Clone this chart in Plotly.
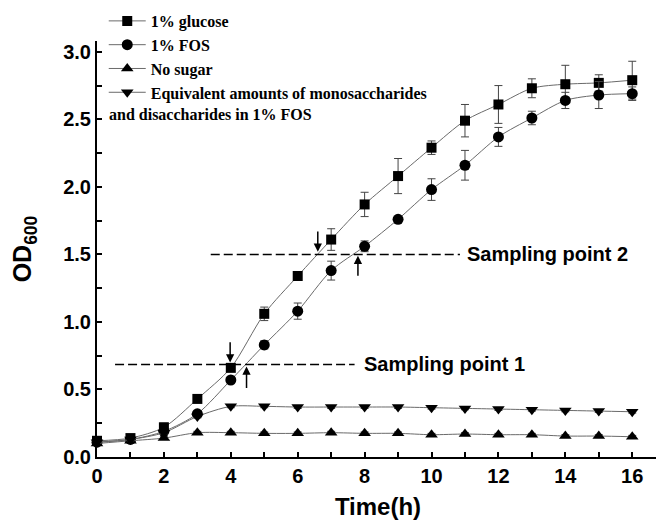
import plotly.graph_objects as go

time_h = list(range(17))

glucose = [0.12, 0.14, 0.22, 0.43, 0.66, 1.06, 1.34, 1.61, 1.87, 2.08, 2.29, 2.49, 2.61, 2.73, 2.76, 2.77, 2.79]
glucose_err = [0.02, 0.02, 0.03, 0.02, 0.02, 0.05, 0.02, 0.08, 0.09, 0.13, 0.05, 0.12, 0.14, 0.07, 0.14, 0.06, 0.14]

fos = [0.11, 0.13, 0.19, 0.32, 0.57, 0.83, 1.08, 1.38, 1.56, 1.76, 1.98, 2.16, 2.37, 2.51, 2.64, 2.68, 2.69]
fos_err = [0.02, 0.02, 0.02, 0.02, 0.02, 0.03, 0.06, 0.07, 0.04, 0.02, 0.08, 0.11, 0.07, 0.05, 0.06, 0.10, 0.05]

no_sugar = [0.10, 0.12, 0.14, 0.18, 0.18, 0.175, 0.175, 0.18, 0.175, 0.175, 0.165, 0.17, 0.165, 0.165, 0.155, 0.155, 0.15]
no_sugar_err = [0.01] * 17

mono_di = [0.11, 0.13, 0.18, 0.30, 0.375, 0.375, 0.37, 0.37, 0.37, 0.37, 0.365, 0.36, 0.355, 0.35, 0.345, 0.34, 0.335]
mono_di_err = [0.01] * 17

series_names = ["1% glucose", "1% FOS", "No sugar", "Equivalent amounts of monosaccharides"]
legend_line2 = "and disaccharides in 1% FOS"

# sampling annotations: [y level, dashed x start, dashed x end, label x]
sampling_labels = ["Sampling point 1", "Sampling point 2"]
sampling_y = [0.685, 1.5]
sampling_x0 = [0.54, 3.4]
sampling_x1 = [7.7, 10.85]
sampling_label_x = [7.93, 11.0]

# arrows: head (x, y), tail y
arrow_x = [3.98, 4.47, 6.6, 7.8]
arrow_head_y = [0.70, 0.67, 1.52, 1.49]
arrow_tail_y = [0.86, 0.50, 1.68, 1.33]

line_col = "#6a6a6a"
err_col = "#444444"

fig = go.Figure()

def add(y, err, name, symbol, size):
    fig.add_trace(go.Scatter(
        x=time_h, y=y, name=name, mode="lines+markers",
        line=dict(color=line_col, width=1, shape="spline", smoothing=0.8),
        marker=dict(symbol=symbol, size=size, color="black"),
        error_y=dict(type="data", array=err, visible=True, color=err_col, thickness=1, width=4),
        cliponaxis=False,
    ))

add(glucose, glucose_err, series_names[0], "square", 10)
add(fos, fos_err, series_names[1], "circle", 11)
add(no_sugar, no_sugar_err, series_names[2], "triangle-up", 11)
add(mono_di, mono_di_err, series_names[3], "triangle-down", 11)

for i in range(2):
    fig.add_shape(type="line", xref="x", yref="y",
                  x0=sampling_x0[i], x1=sampling_x1[i], y0=sampling_y[i], y1=sampling_y[i],
                  line=dict(color="black", width=1.5, dash="9px,4px"))
    fig.add_annotation(x=sampling_label_x[i], y=sampling_y[i], xref="x", yref="y",
                       text=sampling_labels[i], showarrow=False, xanchor="left", yanchor="middle",
                       font=dict(family="Liberation Sans, Arial", size=20, color="black", weight="bold"))

for i in range(4):
    fig.add_annotation(x=arrow_x[i], y=arrow_head_y[i], ax=arrow_x[i], ay=arrow_tail_y[i],
                       xref="x", yref="y", axref="x", ayref="y", text="",
                       showarrow=True, arrowhead=2, arrowsize=1.1, arrowwidth=1.5, arrowcolor="black")

legend_font = dict(family="Liberation Serif, Times New Roman", size=16, color="black", weight="bold")
fig.add_annotation(x=0.018, y=0.8245, xref="paper", yref="paper", text=legend_line2,
                   showarrow=False, xanchor="left", yanchor="middle", font=legend_font)

axis_font = dict(family="Liberation Sans, Arial", size=20, color="black", weight="bold")
fig.update_layout(
    width=664, height=525,
    margin=dict(l=89, r=13, t=33, b=76, autoexpand=False),
    plot_bgcolor="white", paper_bgcolor="white",
    showlegend=True,
    legend=dict(x=0.012, y=1.089, xanchor="left", yanchor="top", bgcolor="rgba(0,0,0,0)",
                font=legend_font, itemwidth=37, tracegroupgap=0),
    xaxis=dict(range=[0, 16.8], dtick=2, tick0=0, showline=True, linecolor="black", linewidth=2,
               ticks="inside", ticklen=5, tickwidth=1.5, tickcolor="black", showgrid=False, zeroline=False,
               tickfont=axis_font, automargin=False,
               minor=dict(ticks="inside", dtick=1, ticklen=5, tickwidth=1.5, tickcolor="black", showgrid=False),
               title=dict(text="Time(h)", font=dict(family="Liberation Sans, Arial", size=24, color="black", weight="bold"), standoff=12)),
    yaxis=dict(range=[0, 3.08], dtick=0.5, tick0=0, showline=True, linecolor="black", linewidth=2,
               ticks="inside", ticklen=5, tickwidth=1.5, tickcolor="black", showgrid=False, zeroline=False,
               tickfont=axis_font, tickformat=".1f", automargin=False,
               minor=dict(ticks="inside", dtick=0.25, ticklen=5, tickwidth=1.5, tickcolor="black", showgrid=False),
               title=dict(text="OD<sub>600</sub>", font=dict(family="Liberation Sans, Arial", size=25, color="black", weight="bold"), standoff=24)),
)

fig.write_html("out.html")
